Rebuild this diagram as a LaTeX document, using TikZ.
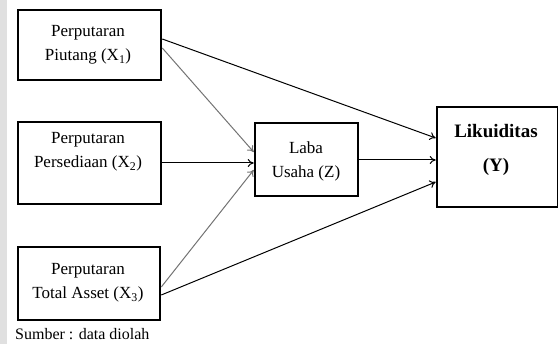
\documentclass[tikz,border=0pt]{standalone}
\usepackage{fontspec}
\setmainfont{Liberation Serif}
\usetikzlibrary{arrows.meta}
\begin{document}
\begin{tikzpicture}[x=1pt,y=-1pt,
  box/.style={draw=black,line width=2.6pt,inner sep=0pt},
  lbl/.style={inner sep=0pt,align=center,font=\fontsize{17}{24}\selectfont},
  arr/.style={line width=1pt,-{To[length=6pt,width=8pt]}},
  garr/.style={arr,draw=black!55}]
\useasboundingbox (0,0) rectangle (558,344);
\fill[black!12] (0,0) rectangle (7,344);
\node[box,minimum width=143pt,minimum height=70pt] (X1) at (89.5,45) {};
\node[box,minimum width=143pt,minimum height=82pt] (X2) at (89.5,163) {};
\node[box,minimum width=142pt,minimum height=73pt] (X3) at (89,283.5) {};
\node[box,minimum width=103pt,minimum height=73pt] (Z) at (306.5,159.5) {};
\node[box,minimum width=121pt,minimum height=100pt] (Y) at (497.5,157) {};
\node[lbl] (t1) at (88,45) {Perputaran\\Piutang (X\textsubscript{1})};
\node[lbl] (t2) at (88,152) {Perputaran\\Persediaan (X\textsubscript{2})};
\node[lbl] (t3) at (88,283) {Perputaran\\Total Asset (X\textsubscript{3})};
\node[lbl] (tz) at (306,161) {Laba\\Usaha (Z)};
\node[lbl,font=\bfseries\fontsize{19}{34}\selectfont] (ty) at (496,149.5) {Likuiditas\\(Y)};
\node[anchor=base west,inner sep=0pt,font=\fontsize{16}{18}\selectfont] (src) at (15,340) {Sumber : data diolah};
\draw[arr] ([yshift=6pt]X1.east) -- ([yshift=19pt]Y.west);
\draw[garr] ([yshift=-3pt]X1.east) -- ([yshift=7.5pt]Z.west);
\draw[arr] (X2.east) -- ([yshift=-3.5pt]Z.west);
\draw[garr] ([yshift=-3.5pt]X3.east) -- ([yshift=-10.5pt]Z.west);
\draw[arr] ([yshift=-11.5pt]X3.east) -- ([yshift=-25pt]Y.west);
\draw[arr] ([yshift=-0.5pt]Z.east) -- ([yshift=-3pt]Y.west);
\end{tikzpicture}
\end{document}
